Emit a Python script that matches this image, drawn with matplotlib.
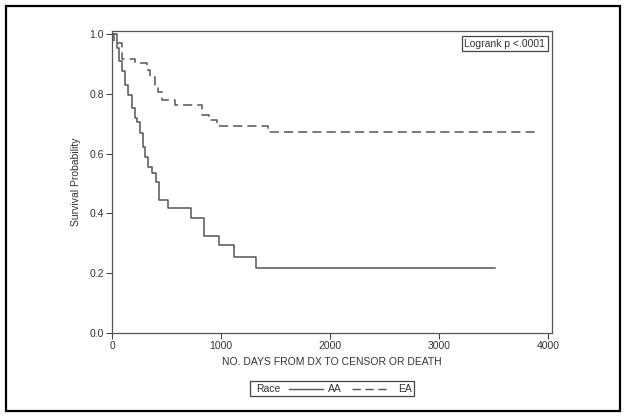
import matplotlib
matplotlib.use("Agg")
import matplotlib.pyplot as plt
from matplotlib.patches import Rectangle
from matplotlib.lines import Line2D

# Kaplan-Meier steps (days, survival after the drop)
aa_days = [0, 46, 64, 92, 119, 147, 183, 211, 229, 257, 284, 303, 330, 367, 404, 431, 514, 725, 844, 982, 1119, 1321, 3514]
aa_surv = [1.0, 0.953, 0.91, 0.876, 0.829, 0.796, 0.753, 0.719, 0.705, 0.669, 0.622, 0.589, 0.555, 0.535, 0.505, 0.445, 0.418, 0.385, 0.324, 0.294, 0.254, 0.217, 0.217]

ea_days = [0, 20, 92, 211, 321, 349, 394, 422, 459, 578, 826, 890, 963, 1431, 3881]
ea_surv = [1.0, 0.97, 0.916, 0.903, 0.88, 0.856, 0.823, 0.806, 0.779, 0.763, 0.729, 0.712, 0.692, 0.672, 0.672]

x_ticks = [0, 1000, 2000, 3000, 4000]
y_ticks = [0.0, 0.2, 0.4, 0.6, 0.8, 1.0]

plt.rcParams['font.family'] = ['Liberation Sans', 'DejaVu Sans']
line_col = '#555555'
dash = (6, 3.3)

fig = plt.figure(figsize=(6.24, 4.17), dpi=100)
ax = fig.add_axes([112/624, 1 - 333/417, 440/624, 302/417])

ax.step(aa_days, aa_surv, where='post', color=line_col, lw=1.1, label='AA')
ax.step(ea_days, ea_surv, where='post', color=line_col, lw=1.1,
        dashes=dash, label='EA')

ax.set_xlim(0, 4037)
ax.set_ylim(0, 1.01)
ax.set_xticks(x_ticks)
ax.set_yticks(y_ticks)
ax.set_yticklabels(['%.1f' % v for v in y_ticks])
ax.tick_params(direction='out', length=4, width=0.8, color='#444444',
               labelsize=7.5, labelcolor='#333333', pad=2)
for s in ax.spines.values():
    s.set_color('#555555')
    s.set_linewidth(0.9)

ax.set_xlabel('NO. DAYS FROM DX TO CENSOR OR DEATH', fontsize=7.5, color='#333333', labelpad=4)
ax.set_ylabel('Survival Probability', fontsize=7.5, color='#333333', labelpad=6)

ax.text(0.985, 0.975, 'Logrank p <.0001', transform=ax.transAxes, ha='right', va='top',
        fontsize=7.5, color='#333333',
        bbox=dict(boxstyle='square,pad=0.25', fc='white', ec='#444444', lw=0.9))

# legend strip under the axes
W, H = 624, 417
fig.patches.append(Rectangle((250/W, 1 - 396/H), 164/W, 15/H, transform=fig.transFigure,
                             fill=False, ec='#444444', lw=0.9))
fig.text(256/W, 1 - 388.5/H, 'Race', fontsize=7.5, color='#333333', va='center')
fig.add_artist(Line2D([289/W, 323/W], [1 - 388.5/H] * 2, transform=fig.transFigure,
                      color=line_col, lw=1.0))
fig.text(328/W, 1 - 388.5/H, 'AA', fontsize=7.5, color='#333333', va='center')
fig.add_artist(Line2D([352/W, 390/W], [1 - 388.5/H] * 2, transform=fig.transFigure,
                      color=line_col, lw=1.0, dashes=dash))
fig.text(398/W, 1 - 388.5/H, 'EA', fontsize=7.5, color='#333333', va='center')

# outer frame
fig.patches.append(Rectangle((6/W, 1 - 411/H), 614/W, 405/H, transform=fig.transFigure,
                             fill=False, ec='black', lw=1.6))

fig.savefig('out.png', dpi=100)
